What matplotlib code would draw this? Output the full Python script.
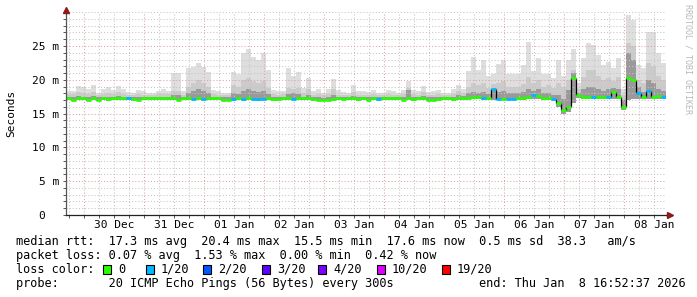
import matplotlib
matplotlib.use("Agg")
import matplotlib.pyplot as plt
import matplotlib.dates as mdates
from matplotlib.patches import Rectangle
from matplotlib.ticker import NullFormatter, MultipleLocator, FixedLocator
import numpy as np
import pandas as pd

plt.rcParams['font.family'] = ['DejaVu Sans Mono']
plt.rcParams['lines.scale_dashes'] = False

# ---------------- data ----------------
end_time = pd.Timestamp('2026-01-08 16:52:37')
span_hours = 240
step_hours = 2

# median rtt per 2h bin (ms)
median = [
    17.3, 17.0, 17.3, 17.3, 17.0, 17.3, 17.0, 17.3, 17.1, 17.3, 17.3, 17.3,
    17.3, 17.1, 17.0, 17.3, 17.3, 17.3, 17.3, 17.3, 17.3, 17.3, 17.0, 17.3,
    17.3, 17.2, 17.3, 17.2, 17.3, 17.3, 17.3, 17.0, 17.0, 17.1, 17.3, 17.1,
    17.3, 17.2, 17.1, 17.2, 17.3, 17.1, 17.1, 17.3, 17.3, 17.2, 17.3, 17.3,
    17.3, 17.1, 17.0, 17.0, 17.0, 17.1, 17.3, 17.2, 17.3, 17.3, 17.1, 17.3,
    17.0, 17.3, 17.1, 17.3, 17.3, 17.3, 17.3, 17.0, 17.3, 17.1, 17.3, 17.3,
    17.0, 17.0, 17.1, 17.3, 17.3, 17.1, 17.3, 17.3, 17.3, 17.4, 17.4, 17.3,
    17.3, 18.6, 17.2, 17.2, 17.2, 17.2, 17.3, 17.3, 17.4, 17.7, 17.6, 17.3,
    17.3, 17.2, 16.6, 15.5, 16.0, 20.3, 17.8, 17.5, 17.5, 17.5, 17.5, 17.5,
    17.5, 18.2, 17.5, 16.0, 20.2, 19.9, 18.0, 17.5, 18.3, 17.5, 17.6, 17.5,
]

# lost pings (out of 20) per bin
loss = [
    0, 0, 0, 0, 0, 0, 0, 0, 0, 0, 0, 0,
    1, 0, 0, 0, 0, 0, 0, 0, 0, 0, 0, 0,
    0, 1, 0, 1, 0, 0, 0, 0, 0, 1, 0, 1,
    0, 1, 1, 1, 0, 0, 0, 0, 0, 1, 0, 0,
    0, 0, 0, 0, 0, 0, 0, 0, 0, 0, 0, 0,
    0, 0, 1, 0, 0, 0, 0, 0, 0, 0, 0, 0,
    0, 0, 0, 0, 0, 0, 0, 0, 0, 0, 0, 1,
    0, 1, 1, 0, 1, 1, 0, 0, 0, 1, 0, 0,
    0, 1, 0, 0, 0, 0, 0, 0, 0, 1, 0, 0,
    1, 0, 0, 0, 0, 0, 1, 0, 1, 0, 0, 1,
]

# smoke: lowest ping, upper edges of dark / medium / light bands (ms)
smoke_min = [
    17.0, 16.9, 17.0, 17.0, 16.9, 17.0, 16.9, 17.0, 16.9, 17.0, 17.0, 17.0,
    17.0, 16.9, 16.9, 17.0, 17.0, 17.0, 17.0, 17.0, 17.0, 17.0, 16.9, 17.0,
    17.0, 17.0, 17.0, 17.0, 17.0, 17.0, 17.0, 16.9, 16.9, 16.9, 17.0, 16.9,
    17.0, 17.0, 16.9, 17.0, 17.0, 16.9, 16.9, 17.0, 17.0, 17.0, 17.0, 17.0,
    17.0, 16.9, 16.9, 16.9, 16.9, 16.9, 17.0, 17.0, 17.0, 17.0, 16.9, 17.0,
    16.9, 17.0, 16.9, 17.0, 17.0, 17.0, 17.0, 16.9, 17.0, 16.9, 17.0, 17.0,
    16.9, 16.9, 16.9, 17.0, 17.0, 16.9, 17.0, 17.0, 17.0, 17.1, 17.1, 17.0,
    17.0, 17.0, 17.0, 17.0, 17.0, 17.0, 17.0, 17.0, 17.1, 17.2, 17.2, 17.0,
    17.0, 16.8, 16.0, 15.0, 15.2, 16.5, 17.3, 17.2, 17.2, 17.2, 17.2, 17.2,
    17.2, 17.2, 17.2, 15.6, 17.0, 17.2, 17.2, 17.2, 17.2, 17.2, 17.2, 17.2,
]

smoke_dark = [
    17.5, 17.5, 17.6, 17.5, 17.5, 17.6, 17.4, 17.5, 17.5, 17.5, 17.6, 17.5,
    17.5, 17.4, 17.4, 17.5, 17.5, 17.5, 17.5, 17.5, 17.5, 17.7, 17.7, 17.5,
    18.0, 18.4, 18.6, 18.4, 18.0, 17.5, 17.5, 17.4, 17.4, 18.0, 17.9, 18.4,
    18.6, 18.4, 18.2, 18.4, 17.9, 17.5, 17.4, 17.5, 17.9, 18.0, 17.9, 17.5,
    17.8, 17.4, 17.4, 17.3, 17.4, 17.8, 17.5, 17.5, 17.5, 17.6, 17.4, 17.5,
    17.4, 17.5, 17.4, 17.5, 17.5, 17.5, 17.5, 17.4, 18.5, 17.5, 17.5, 17.6,
    17.4, 17.4, 17.4, 17.5, 17.5, 17.5, 17.7, 17.6, 18.0, 18.2, 18.0, 18.2,
    17.9, 18.6, 18.2, 18.4, 18.0, 18.0, 18.0, 18.2, 18.6, 18.4, 18.6, 18.0,
    18.0, 17.8, 17.8, 17.2, 18.5, 21.0, 18.0, 18.6, 19.0, 19.0, 18.6, 18.4,
    18.6, 18.8, 18.6, 17.0, 24.0, 23.0, 19.0, 18.2, 20.0, 19.5, 18.6, 18.4,
]

smoke_mid = [
    17.9, 17.9, 18.2, 18.0, 17.9, 18.2, 17.8, 17.9, 18.0, 17.9, 18.2, 17.9,
    17.8, 17.7, 17.9, 17.8, 17.7, 17.8, 17.9, 17.9, 17.9, 18.4, 18.4, 17.8,
    19.0, 19.6, 20.0, 19.6, 19.0, 17.9, 17.8, 17.7, 17.7, 19.2, 19.0, 20.0,
    20.2, 19.8, 19.6, 19.8, 18.8, 17.9, 17.8, 17.9, 18.8, 18.6, 18.8, 18.0,
    18.6, 17.8, 17.9, 17.7, 17.9, 18.6, 17.8, 17.8, 17.7, 18.2, 17.8, 17.8,
    17.8, 17.9, 17.8, 17.7, 17.9, 17.8, 17.7, 17.9, 18.8, 17.9, 17.8, 18.2,
    17.7, 17.8, 17.9, 17.8, 17.8, 17.9, 18.3, 18.0, 19.0, 19.6, 19.2, 19.6,
    18.8, 19.4, 19.6, 19.8, 19.0, 19.0, 19.0, 19.4, 20.4, 19.6, 20.0, 19.0,
    19.2, 18.8, 19.6, 19.0, 20.0, 21.5, 18.6, 20.4, 21.5, 21.5, 20.6, 20.0,
    20.2, 19.8, 20.4, 17.8, 25.5, 25.0, 20.0, 19.6, 22.5, 22.0, 20.6, 20.0,
]

smoke_max = [
    18.4, 18.3, 19.1, 18.9, 18.6, 19.3, 18.1, 18.6, 18.9, 18.5, 19.1, 18.6,
    18.2, 18.0, 18.5, 18.3, 18.0, 18.1, 18.4, 18.6, 18.4, 21.0, 21.0, 18.3,
    21.7, 21.9, 22.5, 21.9, 21.2, 18.5, 18.4, 18.0, 18.0, 21.2, 20.8, 23.9,
    24.6, 23.4, 22.9, 23.9, 21.5, 18.5, 18.3, 18.4, 21.7, 20.5, 21.1, 18.8,
    20.2, 18.4, 18.7, 18.0, 18.7, 20.1, 18.5, 18.2, 18.0, 19.3, 18.4, 18.3,
    18.2, 18.5, 18.1, 18.0, 18.5, 18.4, 18.0, 18.5, 19.8, 18.5, 18.4, 19.1,
    18.2, 18.4, 18.5, 18.1, 18.1, 18.6, 19.3, 18.6, 21.3, 23.4, 21.4, 22.9,
    20.6, 20.9, 22.4, 22.9, 20.9, 20.9, 20.9, 22.2, 25.6, 21.3, 23.2, 20.9,
    20.9, 20.3, 22.9, 20.5, 22.9, 24.6, 19.5, 23.2, 25.4, 25.2, 23.6, 22.2,
    22.7, 21.7, 23.2, 18.7, 29.6, 28.9, 22.2, 21.7, 27.0, 27.0, 23.9, 22.5,
]

y_ticks = [0, 5, 10, 15, 20, 25]
y_tick_labels = ['0  ', '5 m', '10 m', '15 m', '20 m', '25 m']
y_max = 30

loss_levels = [0, 1, 2, 3, 4, 10, 19]
loss_colors = ['#26ff00', '#00b8ff', '#0059ff', '#5e00ff', '#7e00ff', '#dd00ff', '#ff0000']
loss_labels = ['0', '1/20', '2/20', '3/20', '4/20', '10/20', '19/20']

line_rtt = 'median rtt:  17.3 ms avg  20.4 ms max  15.5 ms min  17.6 ms now  0.5 ms sd  38.3   am/s'
line_loss = 'packet loss: 0.07 % avg  1.53 % max  0.00 % min  0.42 % now'
line_color = 'loss color:'
line_probe = 'probe:       20 ICMP Echo Pings (56 Bytes) every 300s'
line_end = 'end: Thu Jan  8 16:52:37 2026'
y_title = 'Seconds'
watermark = 'RRDTOOL / TOBI OETIKER'

# ---------------- layout ----------------
W, H = 697, 297
AX_L, AX_R, AX_B, AX_T = 66, 666, 215, 12.2
FS_AXIS = 8.0
FS_LEG = 8.55

fig = plt.figure(figsize=(W / 100, H / 100), dpi=100)
fig.patch.set_facecolor('white')
ax = fig.add_axes([AX_L / W, (H - AX_B) / H, (AX_R - AX_L) / W, (AX_B - AX_T) / H])
ax.set_facecolor('white')

start_time = end_time - pd.Timedelta(hours=span_hours)
n = len(median)
bin_starts = pd.date_range(start_time, periods=n, freq=f'{step_hours}h')
xs = mdates.date2num(bin_starts.to_pydatetime())
width = step_hours / 24.0
xe = xs + width

med = np.array(median)
smin = np.array(smoke_min)
sdark = np.array(smoke_dark)
smid = np.array(smoke_mid)
smax = np.array(smoke_max)

ax.bar(xs, smax - smin, width=width, bottom=smin, align='edge',
       color='#dedede', linewidth=0, zorder=1.0, antialiased=False)
ax.bar(xs, smid - smin, width=width, bottom=smin, align='edge',
       color='#cbcbcb', linewidth=0, zorder=1.1, antialiased=False)
ax.bar(xs, sdark - smin, width=width, bottom=smin, align='edge',
       color='#9a9a9a', linewidth=0, zorder=1.2, antialiased=False)

def loss_color(v):
    c = loss_colors[0]
    for lv, col in zip(loss_levels, loss_colors):
        if v >= lv:
            c = col
    return c

cols = [loss_color(v) for v in loss]
for i in range(n - 1):
    if abs(med[i + 1] - med[i]) > 0.35:
        ax.vlines(xe[i], min(med[i], med[i + 1]), max(med[i], med[i + 1]),
                  color='black', lw=0.9, zorder=4)
ax.hlines(med, xs, xe, colors=cols, lw=2.0, zorder=5, capstyle='butt')

# axes limits & grid
ax.set_xlim(mdates.date2num(start_time.to_pydatetime()), mdates.date2num(end_time.to_pydatetime()))
ax.set_ylim(0, y_max)

ax.xaxis.set_major_locator(mdates.DayLocator())
ax.xaxis.set_minor_locator(mdates.HourLocator(byhour=[6, 12, 18]))
ax.xaxis.set_major_formatter(NullFormatter())
ax.yaxis.set_major_locator(FixedLocator(y_ticks))
ax.yaxis.set_minor_locator(MultipleLocator(1))
ax.set_yticklabels(y_tick_labels)

ax.set_axisbelow(False)
ax.grid(which='minor', color='#c4c4c4', lw=0.75, linestyle=(0, (0.75, 1.5)), zorder=3)
ax.grid(which='major', color='#e0a4a4', lw=0.75, linestyle=(0, (0.75, 1.5)), zorder=3)

for s in ['top', 'right']:
    ax.spines[s].set_visible(False)
ax.spines['left'].set_color('#555555')
ax.spines['bottom'].set_color('#222222')
ax.spines['left'].set_linewidth(0.9)
ax.spines['bottom'].set_linewidth(0.9)
ax.spines['left'].set_zorder(6)
ax.spines['bottom'].set_zorder(6)

ax.tick_params(which='both', direction='out', length=2, width=0.7, color='#555555')
ax.tick_params(axis='y', which='major', labelsize=FS_AXIS, pad=3.0, labelcolor='black')
ax.tick_params(axis='x', which='both', labelbottom=False)

# day labels at noon
days = pd.date_range(start_time.normalize() + pd.Timedelta(days=1), end_time.normalize(), freq='D')
for d in days:
    xn = mdates.date2num((d + pd.Timedelta(hours=12)).to_pydatetime())
    ax.text(xn, -10 / (AX_B - AX_T), d.strftime('%d %b'), transform=ax.get_xaxis_transform(),
            ha='center', va='center', fontsize=FS_AXIS, clip_on=False)

# arrows
ax.plot([0], [1 + 2.5 / (AX_B - AX_T)], marker='^', ms=4.2, color='#8b1a1a', mec='#8b1a1a',
        transform=ax.transAxes, clip_on=False, zorder=10)
ax.plot([1 + 4 / (AX_R - AX_L)], [0], marker='>', ms=4.2, color='#8b1a1a', mec='#8b1a1a',
        transform=ax.transAxes, clip_on=False, zorder=10)
ax.plot([1, 1 + 4 / (AX_R - AX_L)], [0, 0], color='#222222', lw=0.9,
        transform=ax.transAxes, clip_on=False, zorder=9)

# titles
fig.text(11 / W, 1 - 113 / H, y_title, rotation=90, ha='center', va='center', fontsize=FS_AXIS)
fig.text(688 / W, 1 - 4 / H, watermark, rotation=270, ha='center', va='top',
         fontsize=6.0, color='#b8b8b8')

# legend
def ftext(px, py, s, **kw):
    fig.text(px / W, 1 - py / H, s, fontsize=FS_LEG, va='baseline', ha='left', **kw)

ftext(16, 245, line_rtt)
ftext(16, 259, line_loss)
ftext(16, 273, line_color)
ftext(16, 287, line_probe)
ftext(479, 287, line_end)

box_x = [103, 146, 203, 262, 318, 377, 442]
for bx, col, lab in zip(box_x, loss_colors, loss_labels):
    fig.add_artist(Rectangle((bx / W, 1 - 273.5 / H), 7.5 / W, 8.5 / H, transform=fig.transFigure,
                             facecolor=col, edgecolor='black', lw=0.8))
    ftext(bx + 15, 273, lab)

fig.savefig('out.png', dpi=100, facecolor='white')
